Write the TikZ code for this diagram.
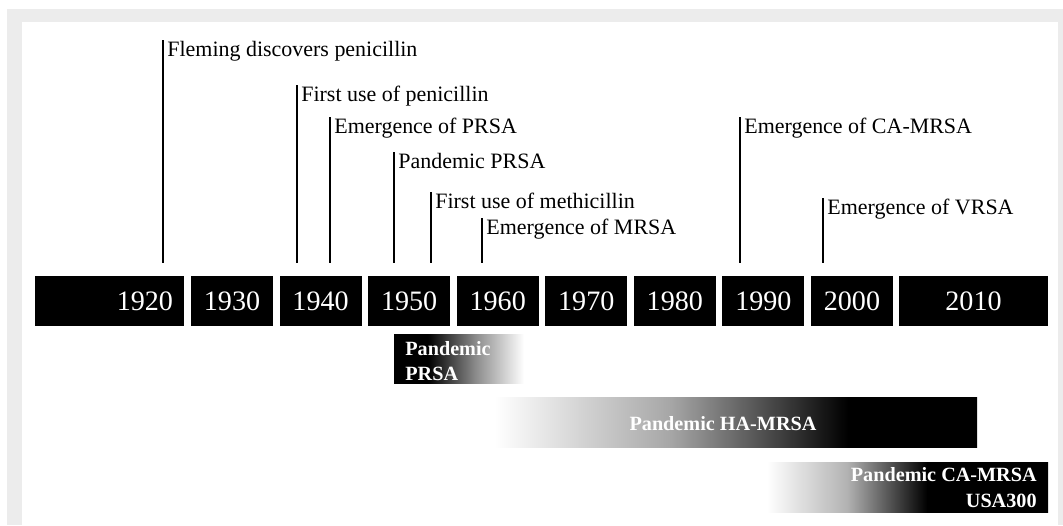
\documentclass[tikz,border=0pt]{standalone}
\usepackage{fontspec}
\setmainfont{Liberation Serif}
\usepackage{xcolor}
\usetikzlibrary{positioning}

\definecolor{framegray}{RGB}{236,236,236}

% bar fades (25bp = left edge, 75bp = right edge)
\pgfdeclarehorizontalshading{prsafade}{100bp}{color(0bp)=(black); color(38bp)=(black);
  color(56.5bp)=(black!45); color(75bp)=(white); color(100bp)=(white)}
\pgfdeclarehorizontalshading{hafade}{100bp}{color(0bp)=(white); color(25bp)=(white);
  color(43.3bp)=(black!35); color(61.6bp)=(black); color(100bp)=(black)}
\pgfdeclarehorizontalshading{cafade}{100bp}{color(0bp)=(white); color(25bp)=(white);
  color(39.2bp)=(black!30); color(53.5bp)=(black); color(100bp)=(black)}

\begin{document}
\begin{tikzpicture}[
  x=0.02cm, y=0.02cm,
  yearbox/.style={fill=black, text=white, inner sep=0pt, minimum width=1.64cm,
                  minimum height=1cm, font=\fontsize{16}{19}\selectfont},
  widebox/.style={yearbox, minimum width=2.98cm},
  evline/.style={line width=0.04cm},
  evlabel/.style={anchor=base west, inner sep=0pt, font=\fontsize{12.5}{15}\selectfont},
  barlabel/.style={inner sep=0pt, text=white, font=\fontsize{11.5}{14.5}\selectfont\bfseries}
]
\useasboundingbox (0,0) rectangle (1063,-525);
% frame
\fill[framegray] (7,-9) rectangle (1063,-525);
\fill[white] (22,-22) rectangle (1058,-525);

% decades
\node[widebox, text width=2.54cm, align=right] (y1920) at (109.5,-301) {1920};
\foreach \yr [count=\i from 0] in {1930,1940,...,2000}
  \node[yearbox] (y\yr) at ({232+88.57*\i},-301) {\yr};
\node[widebox] (y2010) at (973.5,-301) {2010};

% events
\coordinate (axis) at (0,-263);
\foreach \ex/\ey/\nm/\txt in {163/40/fleming/Fleming discovers penicillin,
    297/85/penuse/First use of penicillin,
    330/117/prsa/Emergence of PRSA,
    394/152/pprsa/Pandemic PRSA,
    431/192/methuse/First use of methicillin,
    482/218/mrsa/Emergence of MRSA,
    740/117/camrsa/Emergence of CA-MRSA,
    823/198/vrsa/Emergence of VRSA}{
  \coordinate (\nm) at (\ex,-\ey);
  \node[evlabel] (\nm-lbl) at (\ex+4,-\ey-16) {\txt};
  \draw[evline] (\nm) -- (\nm |- axis);
}

% pandemics
\shade[shading=prsafade] (394,-334) rectangle (524,-383);
\node[barlabel, anchor=west, align=left] (barprsa) at (405,-361) {Pandemic\\PRSA};

\shade[shading=hafade] (495,-397) rectangle (977,-447);
\node[barlabel] (barha) at (723,-423.5) {Pandemic HA-MRSA};

\shade[shading=cafade] (767,-462) rectangle (1048,-512);
\node[barlabel, anchor=east, align=right] (barca) at (1037,-487.5) {Pandemic CA-MRSA\\USA300};
\end{tikzpicture}
\end{document}
